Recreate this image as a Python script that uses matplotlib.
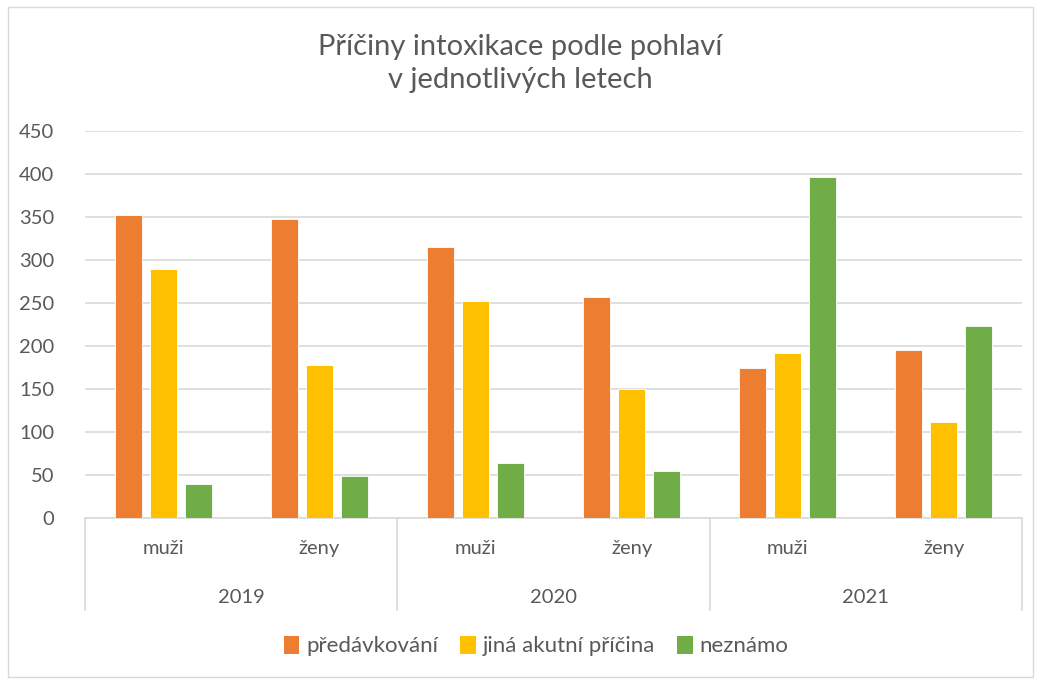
import numpy as np
import matplotlib.pyplot as plt
from matplotlib.patches import Rectangle, Patch

# data
years = ["2019", "2020", "2021"]
sexes = ["muži", "ženy"]
predavkovani = [352, 348, 315, 257, 175, 195]
jina_pricina = [290, 178, 252, 150, 192, 112]
neznamo = [39, 49, 64, 55, 397, 223]
series_names = ["předávkování", "jiná akutní příčina", "neznámo"]
colors = ["#ED7D31", "#FFC000", "#70AD47"]
yticks = [0, 50, 100, 150, 200, 250, 300, 350, 400, 450]

plt.rcParams['font.family'] = ['Lato', 'DejaVu Sans']
txt = "#595959"
grid = "#D9D9D9"

fig = plt.figure(figsize=(10.41, 6.79), dpi=100)
ax = fig.add_axes([85 / 1041, 1 - 518 / 679, 937 / 1041, 387 / 679])

x = np.arange(len(predavkovani))
w = 0.173
step = 0.224
for i, vals in enumerate([predavkovani, jina_pricina, neznamo]):
    ax.bar(x + (i - 1) * step, vals, width=w, color=colors[i],
           edgecolor="white", linewidth=0.6, zorder=3)

ax.set_xlim(-0.5, len(x) - 0.5)
ax.set_ylim(0, 450)
ax.set_yticks(yticks)
ax.set_yticklabels([str(v) for v in yticks], fontsize=14.5, color=txt)
ax.tick_params(axis="y", length=0, pad=22)
ax.yaxis.grid(True, color=grid, linewidth=1.2, zorder=0)
ax.set_xticks([])
for s in ["top", "right", "left"]:
    ax.spines[s].set_visible(False)
ax.spines["bottom"].set_color(grid)
ax.spines["bottom"].set_linewidth(1.2)

# multi-level category axis
tr = ax.get_xaxis_transform()
for b in [-0.5, 1.5, 3.5, 5.5]:
    ax.plot([b, b], [0, -0.238], transform=tr, color=grid, lw=1.2, clip_on=False)
for i in x:
    ax.text(i, -0.078, sexes[i % 2], transform=tr, ha="center", va="center",
            fontsize=14.5, color=txt)
for j, yr in enumerate(years):
    ax.text(2 * j + 0.5, -0.205, yr, transform=tr, ha="center", va="center",
            fontsize=14.5, color=txt)

fig.text(0.5, 1 - 47 / 679, "Příčiny intoxikace podle pohlaví", ha="center",
         va="center", fontsize=21, color=txt)
fig.text(0.5, 1 - 80 / 679, "v jednotlivých letech", ha="center",
         va="center", fontsize=21, color=txt)

handles = [Patch(facecolor=c, label=n) for c, n in zip(colors, series_names)]
fig.legend(handles=handles, loc="center", bbox_to_anchor=(536 / 1041, 1 - 646 / 679),
           ncol=3, frameon=False, fontsize=16, labelcolor=txt,
           handlelength=0.7, handleheight=0.9, handletextpad=0.3, columnspacing=1.0)

fig.patches.append(Rectangle((8 / 1041, 2 / 679), 1025 / 1041, 670 / 679,
                             transform=fig.transFigure, fill=False,
                             edgecolor=grid, linewidth=1))

fig.savefig("out.png", dpi=100)
